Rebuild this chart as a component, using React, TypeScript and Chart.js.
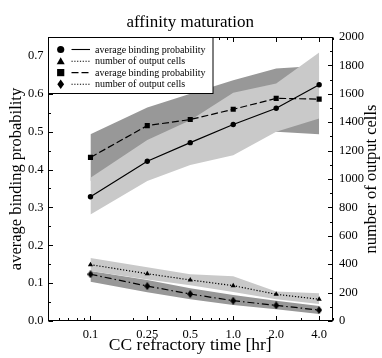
import React, { useEffect, useRef } from "react";
import { Chart, registerables } from "chart.js";

Chart.register(...registerables);

// ---- data ----
const times = [0.1, 0.25, 0.5, 1.0, 2.0, 4.0];
const timeLabels = ["0.1", "0.25", "0.5", "1.0", "2.0", "4.0"];

const probA = [0.328, 0.422, 0.471, 0.519, 0.562, 0.624];
const probAUpper = [0.378, 0.478, 0.53, 0.603, 0.627, 0.709];
const probALower = [0.281, 0.37, 0.412, 0.438, 0.5, 0.535];

const probB = [0.432, 0.516, 0.532, 0.559, 0.588, 0.586];
const probBUpper = [0.493, 0.564, 0.6, 0.636, 0.667, 0.674];
const probBLower = [0.37, 0.47, 0.48, 0.49, 0.5, 0.493];

const cellsA = [397, 333, 289, 249, 188, 153];
const cellsAUpper = [444, 378, 329, 315, 207, 195];
const cellsALower = [352, 293, 251, 205, 153, 120];

const cellsB = [329, 246, 190, 143, 110, 77];
const cellsBUpper = [352, 289, 230, 183, 143, 106];
const cellsBLower = [277, 202, 153, 113, 82, 49];

const leftTicks = [0, 0.1, 0.2, 0.3, 0.4, 0.5, 0.6, 0.7];
const leftMinor = [0.05, 0.15, 0.25, 0.35, 0.45, 0.55, 0.65];
const rightTicks = [0, 200, 400, 600, 800, 1000, 1200, 1400, 1600, 1800, 2000];
const rightMinor = [100, 300, 500, 700, 900, 1100, 1300, 1500, 1700, 1900];
const xMinor = [0.06, 0.07, 0.08, 0.09, 0.2, 0.3, 0.4, 0.6, 0.7, 0.8, 0.9, 2, 3, 5];

const legendItems = [
  { marker: "circle", dash: [] as number[], label: "average binding probability" },
  { marker: "triangle", dash: [1.2, 1.6], label: "number of output cells" },
  { marker: "square", dash: [7, 3], label: "average binding probability" },
  { marker: "diamond", dash: [1.2, 1.6], label: "number of output cells" },
];

const FONT = "'Liberation Serif', 'DejaVu Serif', serif";
const DARK = "rgb(152,152,152)";
const LIGHT = "rgb(201,201,201)";

const pts = (ys: number[]) => ys.map((y, i) => ({ x: times[i], y }));

function makeDiamond(w: number, h: number) {
  const c = document.createElement("canvas");
  c.width = w;
  c.height = h;
  const g = c.getContext("2d")!;
  g.fillStyle = "#000";
  g.beginPath();
  g.moveTo(w / 2, 0);
  g.lineTo(w, h / 2);
  g.lineTo(w / 2, h);
  g.lineTo(0, h / 2);
  g.closePath();
  g.fill();
  return c;
}

const decor = {
  id: "decor",
  afterDraw(chart: any) {
    const { ctx, chartArea: a, scales } = chart;
    const sx = scales.x, yl = scales.y, yr = scales.y1;
    const L = Math.round(a.left) + 0.5, R = Math.round(a.right) - 0.5;
    const T = Math.round(a.top) + 0.5, B = Math.round(a.bottom) - 0.5;
    ctx.save();
    ctx.strokeStyle = "#000";
    ctx.lineWidth = 1;
    const line = (x1: number, y1: number, x2: number, y2: number) => {
      ctx.beginPath();
      ctx.moveTo(x1, y1);
      ctx.lineTo(x2, y2);
      ctx.stroke();
    };
    const MAJ = 4.5, MIN = 2.5;
    leftTicks.forEach((v) => { const p = Math.round(yl.getPixelForValue(v)) + 0.5; line(L, p, L + MAJ, p); });
    leftMinor.forEach((v) => { const p = Math.round(yl.getPixelForValue(v)) + 0.5; line(L, p, L + MIN, p); });
    rightTicks.forEach((v) => { const p = Math.round(yr.getPixelForValue(v)) + 0.5; line(R, p, R - MAJ, p); });
    rightMinor.forEach((v) => { const p = Math.round(yr.getPixelForValue(v)) + 0.5; line(R, p, R - MIN, p); });
    times.forEach((v) => { const p = Math.round(sx.getPixelForValue(v)) + 0.5; line(p, B, p, B - MAJ); line(p, T, p, T + MAJ); });
    xMinor.forEach((v) => { const p = Math.round(sx.getPixelForValue(v)) + 0.5; line(p, B, p, B - MIN); line(p, T, p, T + MIN); });
    ctx.strokeRect(L, T, R - L, B - T);

    // legend
    const lx = L, ly = T, lw = 213 - L, lh = 93.5 - T;
    ctx.fillStyle = "#fff";
    ctx.fillRect(lx, ly, lw, lh);
    ctx.strokeRect(lx, ly, lw, lh);
    ctx.fillStyle = "#000";
    ctx.font = `10px ${FONT}`;
    ctx.textBaseline = "middle";
    ctx.textAlign = "left";
    const rows = [49.5, 61.2, 72.6, 84.2];
    legendItems.forEach((it, i) => {
      const y = rows[i];
      const mx = 60.7;
      ctx.beginPath();
      if (it.marker === "circle") {
        ctx.arc(mx, y, 3.6, 0, Math.PI * 2);
      } else if (it.marker === "triangle") {
        ctx.moveTo(mx, y - 4);
        ctx.lineTo(mx + 4, y + 3);
        ctx.lineTo(mx - 4, y + 3);
        ctx.closePath();
      } else if (it.marker === "square") {
        ctx.rect(mx - 3.6, y - 3.6, 7.2, 7.2);
      } else {
        ctx.moveTo(mx, y - 4.8);
        ctx.lineTo(mx + 3.4, y);
        ctx.lineTo(mx, y + 4.8);
        ctx.lineTo(mx - 3.4, y);
        ctx.closePath();
      }
      ctx.fill();
      ctx.save();
      ctx.setLineDash(it.dash);
      ctx.lineWidth = 1.1;
      line(71.5, y, 90, y);
      ctx.restore();
      ctx.fillText(it.label, 95, y + 0.5);
    });

    // titles
    ctx.textAlign = "center";
    ctx.textBaseline = "middle";
    ctx.font = `17px ${FONT}`;
    ctx.fillText("affinity maturation", (a.left + a.right) / 2, 23);
    ctx.font = `17.5px ${FONT}`;
    ctx.fillText("CC refractory time [hr]", (a.left + a.right) / 2, 345);
    ctx.font = `16.5px ${FONT}`;
    const cy = (a.top + a.bottom) / 2;
    ctx.save();
    ctx.translate(17, cy);
    ctx.rotate(-Math.PI / 2);
    ctx.fillText("average binding probability", 0, 0);
    ctx.restore();
    ctx.save();
    ctx.translate(372, cy);
    ctx.rotate(-Math.PI / 2);
    ctx.fillText("number of output cells", 0, 0);
    ctx.restore();
    ctx.restore();
  },
};

export default function App() {
  const ref = useRef<HTMLCanvasElement | null>(null);
  useEffect(() => {
    document.body.style.margin = "0";
    const diamond = makeDiamond(6, 8);
    const band = (data: number[], color: string, axis: string, order: number, fill: any) => ({
      data: pts(data),
      yAxisID: axis,
      borderWidth: 0,
      pointRadius: 0,
      backgroundColor: color,
      borderColor: "rgba(0,0,0,0)",
      fill,
      order,
      tension: 0,
    });
    const series = (data: number[], axis: string, style: any, radius: number, dash: number[]) => ({
      data: pts(data),
      yAxisID: axis,
      borderColor: "#000",
      borderWidth: 1.2,
      borderDash: dash,
      pointStyle: style,
      pointRadius: radius,
      pointBackgroundColor: "#000",
      pointBorderColor: "#000",
      pointBorderWidth: 0,
      fill: false,
      order: 1,
      tension: 0,
    });
    const tickFont = { family: FONT, size: 12.5 };
    const chart = new Chart(ref.current!, {
      type: "line",
      data: {
        datasets: [
          // dark bands (bottom)
          band(probBUpper, DARK, "y", 3, "+1"),
          band(probBLower, DARK, "y", 3, false),
          band(cellsBUpper, DARK, "y1", 3, "+1"),
          band(cellsBLower, DARK, "y1", 3, false),
          // light bands
          band(probAUpper, LIGHT, "y", 2, "+1"),
          band(probALower, LIGHT, "y", 2, false),
          band(cellsAUpper, LIGHT, "y1", 2, "+1"),
          band(cellsALower, LIGHT, "y1", 2, false),
          // lines
          series(probA, "y", "circle", 2.7, []),
          series(cellsA, "y1", "triangle", 3, [1.2, 1.8]),
          series(probB, "y", "rect", 3.6, [7, 3]),
          series(cellsB, "y1", diamond, 4, [7, 3, 1.5, 3]),
        ] as any,
      },
      options: {
        animation: false,
        responsive: false,
        events: [],
        layout: { padding: { top: 37, left: 0, right: 0, bottom: 0 } },
        plugins: { legend: { display: false }, tooltip: { enabled: false }, title: { display: false } },
        scales: {
          x: {
            type: "logarithmic",
            position: "bottom",
            min: 0.05,
            max: 5,
            afterBuildTicks: (s: any) => { s.ticks = times.map((v) => ({ value: v })); },
            afterFit: (s: any) => { s.height = 37; },
            ticks: {
              callback: (v: any) => { const i = times.indexOf(Number(v)); return i >= 0 ? timeLabels[i] : ""; },
              font: tickFont, color: "#000", padding: 6, maxRotation: 0, autoSkip: false,
            },
            grid: { display: false, drawTicks: false },
            border: { display: false },
          },
          y: {
            type: "linear",
            position: "left",
            min: 0,
            max: 0.75,
            afterBuildTicks: (s: any) => { s.ticks = leftTicks.map((v) => ({ value: v })); },
            afterFit: (s: any) => { s.width = 47.5; },
            ticks: { callback: (v: any) => Number(v).toFixed(1), font: tickFont, color: "#000", padding: 4 },
            grid: { display: false, drawTicks: false },
            border: { display: false },
          },
          y1: {
            type: "linear",
            position: "right",
            min: 0,
            max: 2000,
            afterBuildTicks: (s: any) => { s.ticks = rightTicks.map((v) => ({ value: v })); },
            afterFit: (s: any) => { s.width = 49; },
            ticks: { callback: (v: any) => String(v), font: tickFont, color: "#000", padding: 6 },
            grid: { display: false, drawTicks: false },
            border: { display: false },
          },
        },
      } as any,
      plugins: [decor],
    });
    return () => chart.destroy();
  }, []);
  return <canvas ref={ref} width={382} height={358} style={{ display: "block" }} />;
}
